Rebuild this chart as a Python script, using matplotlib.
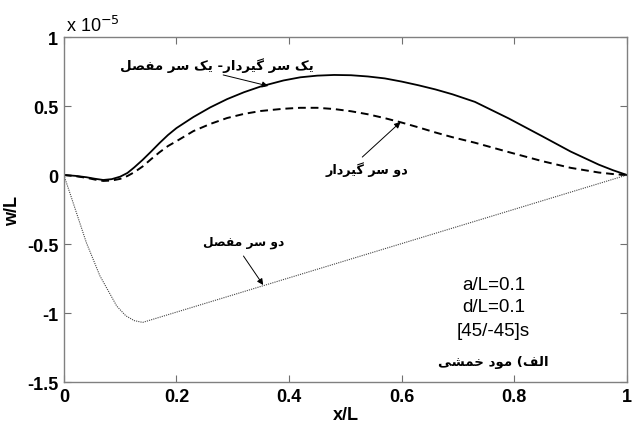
import matplotlib
matplotlib.use('Agg')
import matplotlib.pyplot as plt

# ---- data (w/L in units of 1e-5) ----
x_clamped_hinged = [0, 0.02, 0.04, 0.055, 0.07, 0.085, 0.10, 0.113, 0.125, 0.14, 0.155, 0.17, 0.185,
                    0.20, 0.23, 0.26, 0.29, 0.32, 0.35, 0.39, 0.42, 0.45, 0.48, 0.51, 0.54, 0.57,
                    0.60, 0.63, 0.66, 0.69, 0.73, 0.79, 0.85, 0.90, 0.95, 0.975, 1.0]
y_clamped_hinged = [0, -0.006, -0.016, -0.027, -0.036, -0.03, -0.012, 0.015, 0.055, 0.11, 0.17, 0.232, 0.29,
                    0.34, 0.42, 0.49, 0.55, 0.60, 0.642, 0.685, 0.708, 0.72, 0.725, 0.723, 0.714, 0.70,
                    0.677, 0.65, 0.62, 0.585, 0.53, 0.41, 0.28, 0.17, 0.075, 0.035, 0]

x_clamped_clamped = [0, 0.02, 0.04, 0.055, 0.07, 0.085, 0.10, 0.113, 0.125, 0.14, 0.155, 0.17, 0.185,
                     0.20, 0.23, 0.26, 0.29, 0.32, 0.35, 0.39, 0.42, 0.45, 0.48, 0.51, 0.54, 0.57,
                     0.60, 0.63, 0.66, 0.69, 0.73, 0.79, 0.85, 0.90, 0.95, 0.975, 1.0]
y_clamped_clamped = [0, -0.008, -0.02, -0.033, -0.043, -0.04, -0.028, -0.007, 0.02, 0.062, 0.115, 0.165, 0.21,
                     0.245, 0.318, 0.370, 0.413, 0.443, 0.464, 0.480, 0.487, 0.487, 0.478, 0.462, 0.440, 0.412,
                     0.380, 0.345, 0.308, 0.274, 0.234, 0.166, 0.100, 0.052, 0.018, 0.007, 0]

x_hinged_hinged = [0, 0.014, 0.04, 0.064, 0.094, 0.11, 0.125, 0.14, 1.0]
y_hinged_hinged = [0, -0.17, -0.49, -0.73, -0.95, -1.02, -1.055, -1.068, 0]

x_ticks = [0, 0.2, 0.4, 0.6, 0.8, 1]
x_ticklabels = ['0', '0.2', '0.4', '0.6', '0.8', '1']
y_ticks = [-1.5, -1, -0.5, 0, 0.5, 1]
y_ticklabels = ['-1.5', '-1', '-0.5', '0', '0.5', '1']

label_ch = 'یک سر گیردار- یک سر مفصل'
label_cc = 'دو سر گیردار'
label_hh = 'دو سر مفصل'
info_lines = ['a/L=0.1', 'd/L=0.1', '[45/-45]s']
info_fa = 'الف) مود خمشی'

# ---- minimal Persian shaping (presentation forms, visual order) ----
FORMS = {
    'ا': ('\uFE8D', '\uFE8E', None, None),
    'د': ('\uFEA9', '\uFEAA', None, None),
    'ر': ('\uFEAD', '\uFEAE', None, None),
    'و': ('\uFEED', '\uFEEE', None, None),
    'س': ('\uFEB1', '\uFEB2', '\uFEB3', '\uFEB4'),
    'ش': ('\uFEB5', '\uFEB6', '\uFEB7', '\uFEB8'),
    'ص': ('\uFEB9', '\uFEBA', '\uFEBB', '\uFEBC'),
    'ف': ('\uFED1', '\uFED2', '\uFED3', '\uFED4'),
    'ل': ('\uFEDD', '\uFEDE', '\uFEDF', '\uFEE0'),
    'م': ('\uFEE1', '\uFEE2', '\uFEE3', '\uFEE4'),
    'خ': ('\uFEA5', '\uFEA6', '\uFEA7', '\uFEA8'),
    'ی': ('\uFBFC', '\uFBFD', '\uFBFE', '\uFBFF'),
    'ک': ('\uFB8E', '\uFB8F', '\uFB90', '\uFB91'),
    'گ': ('\uFB92', '\uFB93', '\uFB94', '\uFB95'),
}


def shape(s):
    chars = list(s)
    out = []

    def dual(c):
        return c in FORMS and FORMS[c][2] is not None

    for i, c in enumerate(chars):
        if c not in FORMS:
            out.append(c)
            continue
        prev = chars[i - 1] if i > 0 else None
        nxt = chars[i + 1] if i + 1 < len(chars) else None
        jp = prev is not None and dual(prev)
        jn = nxt is not None and nxt in FORMS and dual(c)
        iso, fin, ini, med = FORMS[c]
        if jp and jn:
            out.append(med)
        elif jp:
            out.append(fin)
        elif jn:
            out.append(ini)
        else:
            out.append(iso)
    mirror = {'(': ')', ')': '('}
    return ''.join(mirror.get(c, c) for c in reversed(out))


LAT = ['Liberation Sans', 'DejaVu Sans']
FA = ['DejaVu Sans']

fig = plt.figure(figsize=(6.32, 4.27), dpi=100)
ax = fig.add_axes([0.101, 0.103, 0.891, 0.808])

ax.plot(x_clamped_hinged, y_clamped_hinged, color='black', lw=1.3, ls='-')
ax.plot(x_clamped_clamped, y_clamped_clamped, color='black', lw=1.4, ls=(0, (4, 2.5)))
ax.plot(x_hinged_hinged, y_hinged_hinged, color='#444444', lw=0.8, ls=(0, (1, 1)))

ax.set_xlim(0, 1)
ax.set_ylim(-1.5, 1)
ax.set_xticks(x_ticks)
ax.set_xticklabels(x_ticklabels)
ax.set_yticks(y_ticks)
ax.set_yticklabels(y_ticklabels)
for lab in ax.get_xticklabels() + ax.get_yticklabels():
    lab.set_family(LAT)
    lab.set_fontweight('bold')
    lab.set_fontsize(13)
ax.tick_params(direction='in', length=5, width=0.8, color='#707070',
               top=True, right=True, pad=4)
for sp in ax.spines.values():
    sp.set_color('#808080')
    sp.set_linewidth(1.0)

ax.set_xlabel('x/L', family=LAT, fontweight='bold', fontsize=13, labelpad=1)
ax.set_ylabel('w/L', family=LAT, fontweight='bold', fontsize=13, labelpad=4)
ax.text(0.003, 1.005, r'x 10$^{-5}$', transform=ax.transAxes, ha='left', va='bottom',
        family=LAT, fontsize=13)

arrow = dict(arrowstyle='-|>', lw=0.7, color='black', mutation_scale=9, shrinkA=0, shrinkB=0)
ax.annotate('', xy=(0.363, 0.645), xytext=(0.283, 0.725), arrowprops=arrow)
ax.annotate('', xy=(0.598, 0.384), xytext=(0.530, 0.130), arrowprops=arrow)
ax.annotate('', xy=(0.354, -0.797), xytext=(0.319, -0.587), arrowprops=arrow)

ax.text(0.271, 0.80, shape(label_ch), family=FA, fontweight='bold', fontsize=9.6,
        ha='center', va='center')
ax.text(0.539, 0.045, shape(label_cc), family=FA, fontweight='bold', fontsize=9.2,
        ha='center', va='center')
ax.text(0.319, -0.48, shape(label_hh), family=FA, fontweight='bold', fontsize=8.8,
        ha='center', va='center')

info_y = [-0.79, -0.95, -1.13]
for t, yy in zip(info_lines, info_y):
    ax.text(0.763, yy, t, family=LAT, fontsize=13.5, ha='center', va='center')
ax.text(0.763, -1.35, shape(info_fa), family=FA, fontweight='bold', fontsize=9.6,
        ha='center', va='center')

fig.savefig('out.png', dpi=100)
